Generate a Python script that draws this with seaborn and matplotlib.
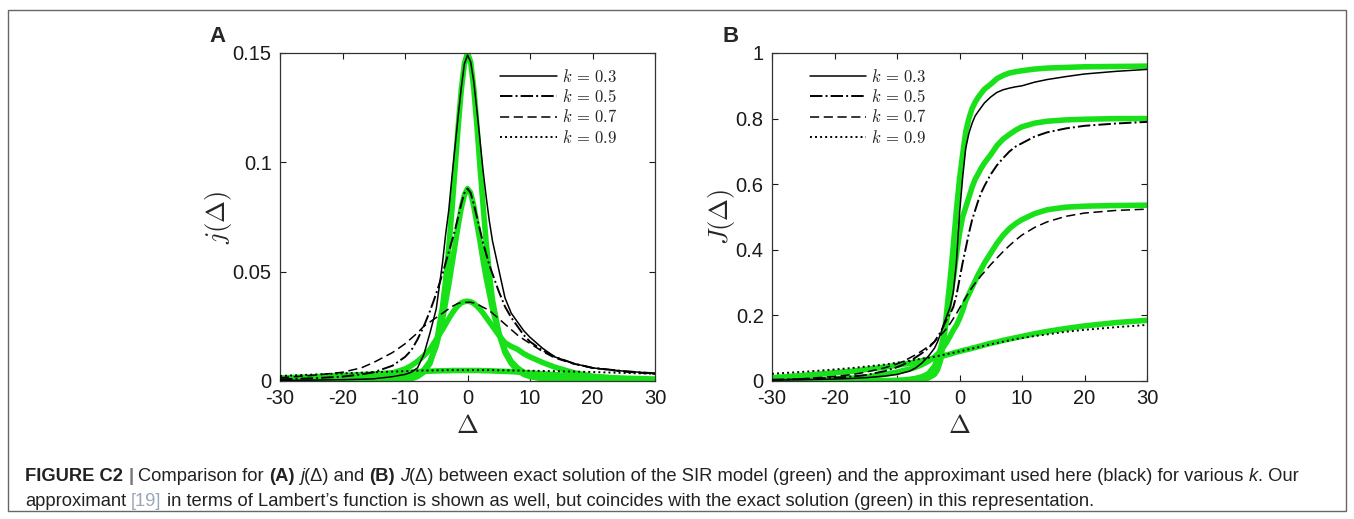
import matplotlib
matplotlib.use("Agg")
import matplotlib.pyplot as plt
import seaborn as sns
from matplotlib.patches import Rectangle

# shared Delta grid (values at these positions)
DELTA = [-30, -25, -20, -17, -15, -12, -10, -9, -8, -7, -6, -5, -4, -3.5, -3, -2.5, -2, -1.5, -1, -0.5,
         0, 0.5, 1, 1.5, 2, 2.5, 3, 3.5, 4, 5, 6, 7, 8, 9, 10, 12, 14, 17, 20, 25, 30]

# panel A: j(Delta), exact SIR (green)
j_exact_03 = [0, 0, 0, 0, 0.0001, 0.0002, 0.0005, 0.001, 0.002, 0.004, 0.008, 0.017, 0.034, 0.046, 0.061, 0.078,
              0.097, 0.116, 0.133, 0.145, 0.150, 0.146, 0.134, 0.117, 0.098, 0.080, 0.063, 0.049, 0.037, 0.022,
              0.013, 0.008, 0.005, 0.003, 0.002, 0.001, 0.0005, 0.0002, 0.0001, 0, 0]
j_exact_05 = [0, 0, 0.0001, 0.0002, 0.0003, 0.0007, 0.0015, 0.002, 0.003, 0.005, 0.009, 0.016, 0.028, 0.036, 0.044,
              0.053, 0.062, 0.071, 0.079, 0.085, 0.088, 0.086, 0.080, 0.072, 0.064, 0.055, 0.047, 0.040, 0.033,
              0.022, 0.014, 0.009, 0.006, 0.004, 0.003, 0.0015, 0.0008, 0.0003, 0.0001, 0, 0]
j_exact_07 = [0.0003, 0.0005, 0.001, 0.0016, 0.0022, 0.0037, 0.0055, 0.007, 0.009, 0.0115, 0.0145, 0.019, 0.0235,
              0.026, 0.0285, 0.0308, 0.0328, 0.0345, 0.0357, 0.0363, 0.0365, 0.0362, 0.0355, 0.0343, 0.0328, 0.031,
              0.029, 0.027, 0.025, 0.021, 0.0175, 0.0158, 0.0145, 0.0125, 0.011, 0.0085, 0.0063, 0.0038, 0.0022,
              0.0009, 0.0004]
j_exact_09 = [0.0014, 0.0019, 0.0025, 0.0029, 0.0032, 0.0037, 0.004, 0.0041, 0.0043, 0.0044, 0.0045, 0.0046, 0.0047,
              0.0047, 0.0047, 0.0048, 0.0048, 0.0048, 0.0048, 0.0048, 0.0048, 0.0048, 0.0048, 0.0048, 0.0048,
              0.0047, 0.0047, 0.0047, 0.0046, 0.0045, 0.0044, 0.0043, 0.0041, 0.0039, 0.0037, 0.0033, 0.0029,
              0.0024, 0.0019, 0.0013, 0.0009]

# panel A: j(Delta), approximant (black)
j_appr_03 = [0.0003, 0.0004, 0.0006, 0.0008, 0.001, 0.002, 0.003, 0.004, 0.006, 0.012, 0.022, 0.033, 0.054, 0.067,
             0.078, 0.093, 0.107, 0.121, 0.134, 0.145, 0.149, 0.146, 0.137, 0.124, 0.110, 0.096, 0.084, 0.073,
             0.064, 0.051, 0.038, 0.031, 0.027, 0.023, 0.020, 0.015, 0.011, 0.008, 0.006, 0.0045, 0.0035]
j_appr_05 = [0.0008, 0.0012, 0.002, 0.003, 0.004, 0.007, 0.011, 0.014, 0.019, 0.025, 0.032, 0.040, 0.049, 0.054,
             0.059, 0.064, 0.069, 0.075, 0.081, 0.086, 0.088, 0.086, 0.081, 0.075, 0.069, 0.063, 0.058, 0.053,
             0.049, 0.041, 0.034, 0.029, 0.025, 0.021, 0.018, 0.014, 0.011, 0.008, 0.006, 0.0045, 0.0035]
j_appr_07 = [0.0015, 0.0025, 0.004, 0.006, 0.0085, 0.013, 0.017, 0.0195, 0.022, 0.025, 0.027, 0.029, 0.031, 0.032,
             0.033, 0.034, 0.0348, 0.0355, 0.0358, 0.036, 0.036, 0.036, 0.0357, 0.0352, 0.0345, 0.0337, 0.033,
             0.0322, 0.031, 0.0285, 0.026, 0.0235, 0.021, 0.019, 0.0172, 0.0135, 0.0105, 0.0078, 0.006, 0.0042,
             0.0032]
j_appr_09 = [0.0023, 0.0029, 0.0035, 0.0038, 0.004, 0.0043, 0.0045, 0.0046, 0.0047, 0.0048, 0.0048, 0.0049, 0.0049,
             0.005, 0.005, 0.005, 0.005, 0.005, 0.005, 0.005, 0.005, 0.005, 0.005, 0.005, 0.005, 0.005, 0.005,
             0.005, 0.005, 0.0049, 0.0049, 0.0048, 0.0048, 0.0047, 0.0047, 0.0046, 0.0045, 0.0043, 0.0041,
             0.0037, 0.0033]

# panel B: J(Delta), exact SIR (green)
J_exact_03 = [0, 0, 0, 0, 0, 0.0005, 0.001, 0.0015, 0.002, 0.003, 0.005, 0.009, 0.02, 0.035, 0.065, 0.13, 0.22,
              0.31, 0.41, 0.52, 0.615, 0.69, 0.76, 0.80, 0.83, 0.85, 0.865, 0.878, 0.89, 0.905, 0.922, 0.932,
              0.939, 0.943, 0.946, 0.951, 0.954, 0.956, 0.958, 0.959, 0.96]
J_exact_05 = [0, 0, 0, 0, 0, 0.001, 0.002, 0.003, 0.005, 0.008, 0.013, 0.022, 0.045, 0.07, 0.10, 0.14, 0.19, 0.25,
              0.31, 0.385, 0.45, 0.50, 0.53, 0.56, 0.59, 0.615, 0.632, 0.65, 0.665, 0.69, 0.718, 0.738, 0.752,
              0.765, 0.775, 0.786, 0.792, 0.796, 0.798, 0.80, 0.80]
J_exact_07 = [0.001, 0.003, 0.006, 0.009, 0.012, 0.02, 0.027, 0.032, 0.036, 0.042, 0.05, 0.06, 0.073, 0.082, 0.092,
              0.105, 0.12, 0.137, 0.155, 0.17, 0.19, 0.215, 0.245, 0.265, 0.285, 0.305, 0.325, 0.342, 0.36, 0.39,
              0.42, 0.445, 0.465, 0.48, 0.492, 0.51, 0.522, 0.53, 0.533, 0.535, 0.536]
J_exact_09 = [0.010, 0.017, 0.025, 0.03, 0.035, 0.042, 0.048, 0.051, 0.054, 0.058, 0.062, 0.066, 0.07, 0.072, 0.075,
              0.077, 0.08, 0.082, 0.085, 0.088, 0.09, 0.093, 0.095, 0.097, 0.1, 0.102, 0.105, 0.107, 0.11, 0.115,
              0.119, 0.124, 0.128, 0.132, 0.136, 0.144, 0.151, 0.16, 0.168, 0.178, 0.185]

# panel B: J(Delta), approximant (black)
J_appr_03 = [0.003, 0.004, 0.006, 0.008, 0.01, 0.015, 0.02, 0.025, 0.03, 0.04, 0.055, 0.075, 0.10, 0.12, 0.145,
             0.175, 0.20, 0.225, 0.27, 0.36, 0.51, 0.62, 0.71, 0.755, 0.785, 0.808, 0.822, 0.835, 0.848, 0.866,
             0.88, 0.888, 0.893, 0.897, 0.90, 0.911, 0.919, 0.928, 0.936, 0.944, 0.95]
J_appr_05 = [0.004, 0.006, 0.01, 0.014, 0.018, 0.03, 0.042, 0.05, 0.06, 0.072, 0.085, 0.10, 0.12, 0.135, 0.15,
             0.17, 0.19, 0.205, 0.225, 0.26, 0.31, 0.36, 0.405, 0.45, 0.49, 0.52, 0.55, 0.575, 0.595, 0.63, 0.658,
             0.68, 0.70, 0.715, 0.725, 0.745, 0.758, 0.77, 0.778, 0.785, 0.79]
J_appr_07 = [0.002, 0.007, 0.014, 0.02, 0.027, 0.04, 0.052, 0.06, 0.07, 0.08, 0.092, 0.105, 0.12, 0.13, 0.14, 0.15,
             0.162, 0.175, 0.19, 0.205, 0.222, 0.238, 0.254, 0.27, 0.285, 0.298, 0.31, 0.322, 0.333, 0.355, 0.375,
             0.395, 0.413, 0.43, 0.445, 0.468, 0.485, 0.502, 0.512, 0.52, 0.524]
J_appr_09 = [0.022, 0.028, 0.035, 0.04, 0.044, 0.05, 0.056, 0.059, 0.062, 0.065, 0.068, 0.071, 0.074, 0.076, 0.078,
             0.08, 0.082, 0.084, 0.086, 0.088, 0.09, 0.092, 0.095, 0.097, 0.099, 0.101, 0.103, 0.105, 0.108, 0.112,
             0.116, 0.12, 0.124, 0.128, 0.131, 0.137, 0.142, 0.15, 0.156, 0.164, 0.171]

k_labels = [r"$k\,=\,0.3$", r"$k\,=\,0.5$", r"$k\,=\,0.7$", r"$k\,=\,0.9$"]
x_ticks = [-30, -20, -10, 0, 10, 20, 30]
x_ticklabels = ["-30", "-20", "-10", "0", "10", "20", "30"]
yA_ticks = [0, 0.05, 0.1, 0.15]
yA_ticklabels = ["0", "0.05", "0.1", "0.15"]
yB_ticks = [0, 0.2, 0.4, 0.6, 0.8, 1.0]
yB_ticklabels = ["0", "0.2", "0.4", "0.6", "0.8", "1"]

GREEN = "#19e119"
styles = [("-", 1.1), ("-.", 1.4), ((0, (6, 3)), 1.1), ((0, (1, 1.6)), 1.4)]

sns.set_theme(style="ticks")
plt.rcParams["font.family"] = ["Liberation Sans", "DejaVu Sans"]
plt.rcParams["mathtext.fontset"] = "cm"

fig = plt.figure(figsize=(13.54, 5.19), dpi=100)
W, H = 1354, 519
axA = fig.add_axes([280 / W, 1 - 381 / H, 375 / W, 328 / H])
axB = fig.add_axes([772 / W, 1 - 381 / H, 375 / W, 328 / H])

panels = [
    (axA, [j_exact_03, j_exact_05, j_exact_07, j_exact_09], [j_appr_03, j_appr_05, j_appr_07, j_appr_09]),
    (axB, [J_exact_03, J_exact_05, J_exact_07, J_exact_09], [J_appr_03, J_appr_05, J_appr_07, J_appr_09]),
]

for ax, exact, appr in panels:
    for ys in exact:
        sns.lineplot(x=DELTA, y=ys, ax=ax, color=GREEN, lw=4.0, solid_capstyle="butt", zorder=2)
    for ys, (ls, lw), lab in zip(appr, styles, k_labels):
        sns.lineplot(x=DELTA, y=ys, ax=ax, color="black", lw=lw, linestyle=ls, label=lab, zorder=3)
    ax.set_xlim(-30, 30)
    ax.set_xticks(x_ticks)
    ax.set_xticklabels(x_ticklabels)
    ax.tick_params(direction="in", top=True, right=True, length=4, width=0.8, labelsize=14.5, pad=6,
                   colors="#1a1a1a")
    for sp in ax.spines.values():
        sp.set_visible(True)
        sp.set_linewidth(0.9)
        sp.set_color("#333333")
    ax.set_xlabel(r"$\Delta$", fontsize=19, labelpad=4)

axA.set_ylim(0, 0.15)
axA.set_yticks(yA_ticks)
axA.set_yticklabels(yA_ticklabels)
axA.set_ylabel(r"$j(\Delta)$", fontsize=19, labelpad=-1)
axB.set_ylim(0, 1)
axB.set_yticks(yB_ticks)
axB.set_yticklabels(yB_ticklabels)
axB.set_ylabel(r"$J(\Delta)$", fontsize=19, labelpad=-1)

leg_kw = dict(frameon=False, fontsize=12, handlelength=3.4, handletextpad=0.3, labelspacing=0.2,
              borderpad=0, borderaxespad=0)
hA = [l for l in axA.get_lines() if l.get_color() == "black"]
axA.legend(handles=hA, labels=k_labels, loc="upper right", bbox_to_anchor=(0.9, 0.955), **leg_kw)
hB = [l for l in axB.get_lines() if l.get_color() == "black"]
axB.legend(handles=hB, labels=k_labels, loc="upper left", bbox_to_anchor=(0.1, 0.955), **leg_kw)

fig.text(218 / W, 1 - 37 / H, "A", fontsize=16, fontweight="bold", ha="center", va="center", family="Liberation Sans")
fig.text(731 / W, 1 - 37 / H, "B", fontsize=16, fontweight="bold", ha="center", va="center", family="Liberation Sans")

# outer frame
fig.patches.append(Rectangle((8 / W, 1 - 511 / H), 1338 / W, 501 / H, transform=fig.transFigure,
                             fill=False, edgecolor="#666666", lw=1.0))

# caption, laid out piece by piece
BOLD = dict(fontweight="bold")
NORM = dict()
ITAL = dict(style="italic")
LINK = dict(color="#9aa6b8")
line1 = [("FIGURE C2", BOLD, True), ("|", dict(fontweight="bold", color="#777777"), True),
         ("Comparison for", NORM, True), ("(A)", BOLD, True), ("j", ITAL, False),
         ("(Δ) and", NORM, True), ("(B)", BOLD, True), ("J", ITAL, False),
         ("(Δ) between exact solution of the SIR model (green) and the approximant used here (black) for various",
          NORM, True), ("k", ITAL, False), (". Our", NORM, False)]
line2 = [("approximant", NORM, True), ("[19]", LINK, True),
         ("in terms of Lambert’s function is shown as well, but coincides with the exact solution (green) in this representation.",
          NORM, False)]

renderer = fig.canvas.get_renderer()


def layout(pieces, y, size):
    probe1 = fig.text(0, 0, "a a", fontsize=size)
    probe2 = fig.text(0, 0, "aa", fontsize=size)
    space = (probe1.get_window_extent(renderer).width - probe2.get_window_extent(renderer).width) / W
    probe1.remove()
    probe2.remove()
    x = 25 / W
    made = []
    for text, kw, gap in pieces:
        t = fig.text(x, y, text, fontsize=size, va="baseline", ha="left", color=kw.get("color", "#222222"),
                     **{k: v for k, v in kw.items() if k != "color"})
        made.append(t)
        x += t.get_window_extent(renderer).width / W + (space if gap else 0)
    return made, x


made, xend = layout(line1, 1 - 481 / H, 10)
for t in made:
    t.remove()
size = 10 * (1306 / W - 25 / W) / (xend - 25 / W)
layout(line1, 1 - 481 / H, size)
layout(line2, 1 - 506 / H, size)

fig.savefig("out.png", dpi=100)
